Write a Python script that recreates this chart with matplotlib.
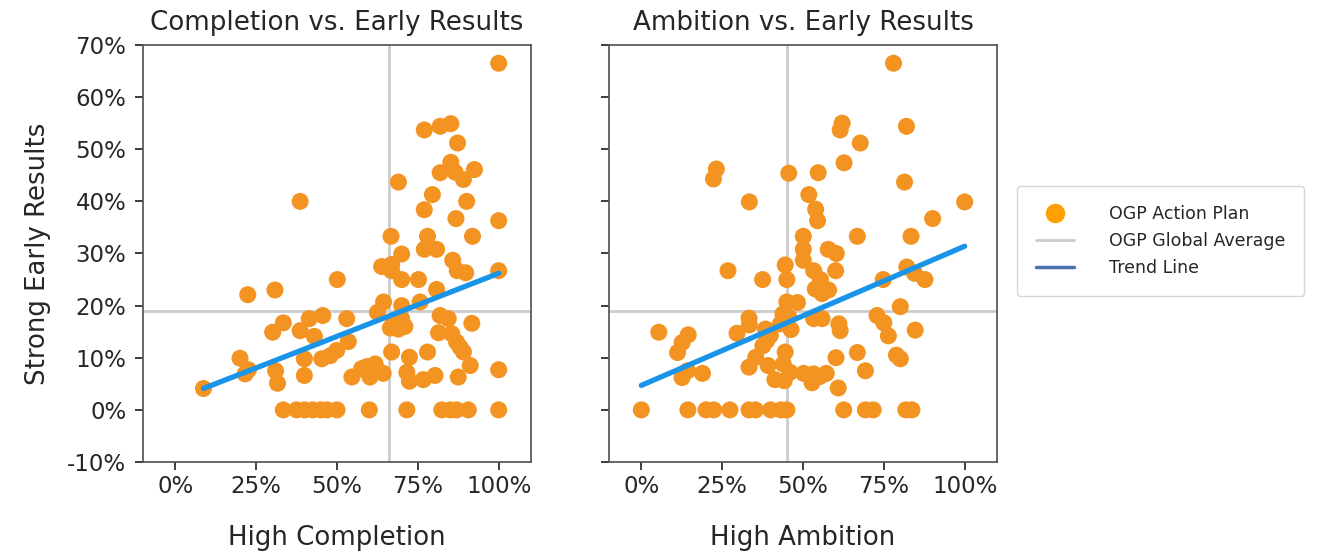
import numpy as np
import matplotlib
matplotlib.use("Agg")
import matplotlib.pyplot as plt
import seaborn as sns
from matplotlib.lines import Line2D
from matplotlib.ticker import FuncFormatter

# ---------------- data (percent) ----------------
completion_x = [100, 77.0, 81.9, 85.2, 87.3, 85.2, 81.9, 86.5, 89.1, 92.5,
                69.0, 79.5, 38.6, 90.1, 77.0, 86.8, 100, 66.7, 78.0, 91.9,
                77.0, 80.8, 70.0, 85.8, 63.8, 66.9, 66.9, 87.2, 89.8, 100,
                50.1, 70.0, 75.2, 22.4, 30.8, 80.8, 64.4, 70.0, 75.7, 62.5,
                45.6, 41.4, 53.0, 33.4, 81.9, 84.4, 91.7, 67.5, 70.0, 69.0,
                71.0, 68.0, 66.5, 30.1, 38.6, 43.0, 81.4, 85.5, 87.0, 88.1,
                89.1, 53.5, 49.9, 47.9, 45.3, 39.9, 20.0, 22.6, 21.6, 31.0,
                31.6, 39.9, 66.9, 72.4, 78.0, 71.6, 72.4, 76.7, 80.3, 87.5,
                91.2, 100, 54.6, 57.6, 60.2, 61.8, 64.3, 59.2, 8.7,
                33.4, 37.5, 40.0, 42.5, 45.0, 47.0, 50.0, 60.0, 71.6, 82.4,
                85.0, 87.0, 90.6, 100]
completion_y = [66.5, 53.7, 54.4, 54.9, 51.2, 47.5, 45.5, 45.6, 44.2, 46.1,
                43.7, 41.3, 40.0, 40.0, 38.4, 36.7, 36.3, 33.3, 33.3, 33.3,
                30.8, 30.8, 29.9, 28.7, 27.5, 27.9, 26.7, 26.7, 26.3, 26.7,
                25.0, 25.0, 25.0, 22.1, 23.0, 23.1, 20.7, 20.0, 20.7, 18.7,
                18.1, 17.5, 17.5, 16.7, 18.1, 17.5, 16.6, 17.1, 17.5, 15.5,
                16.0, 16.2, 15.7, 14.9, 15.2, 14.1, 14.8, 14.6, 13.0, 12.0,
                11.1, 13.1, 11.4, 10.4, 9.8, 9.8, 9.9, 7.7, 6.9, 7.5,
                5.1, 6.6, 11.1, 10.1, 11.1, 7.2, 5.5, 5.8, 6.6, 6.3,
                8.5, 7.7, 6.3, 7.9, 6.3, 8.8, 7.0, 8.3, 4.1,
                0, 0, 0, 0, 0, 0, 0, 0, 0, 0,
                0, 0, 0, 0]

ambition_x = [78.0, 62.1, 61.5, 82.0, 67.7, 62.7, 23.2, 22.3, 45.6, 54.7,
              81.4, 51.8, 33.4, 100, 53.9, 54.5, 90.1, 50.1, 66.8, 83.4,
              50.1, 50.1, 57.8, 60.3, 26.8, 37.5, 44.5, 45.0, 53.3, 55.4,
              53.8, 55.9, 57.9, 60.1, 74.8, 82.1, 84.5, 87.7, 45.0, 48.3,
              43.8, 45.6, 43.0, 46.3, 80.1, 33.3, 33.4, 29.6, 5.4, 14.5,
              12.6, 11.2, 38.4, 39.9, 38.8, 37.6, 53.3, 55.9, 61.1, 61.5,
              72.9, 75.0, 76.4, 84.7, 44.5, 43.9, 35.4, 33.3, 39.2, 41.3,
              44.2, 46.0, 50.2, 52.8, 55.2, 57.2, 60.2, 60.9, 66.8, 69.3,
              78.9, 80.1, 12.6, 14.3, 18.9, 53.3,
              0, 14.4, 20.0, 22.4, 27.4, 33.3, 35.3, 40.0, 43.2, 45.0,
              62.6, 69.3, 71.7, 81.8, 83.7]
ambition_y = [66.5, 55.0, 53.7, 54.4, 51.2, 47.4, 46.2, 44.3, 45.4, 45.5,
              43.7, 41.3, 39.9, 39.9, 38.5, 36.3, 36.7, 33.3, 33.3, 33.3,
              30.8, 28.7, 30.8, 30.0, 26.7, 25.0, 27.8, 25.0, 26.7, 25.0,
              23.2, 22.3, 23.0, 26.7, 25.0, 27.4, 26.2, 25.0, 20.7, 20.6,
              18.4, 17.8, 16.5, 15.4, 19.8, 17.6, 16.3, 14.7, 14.9, 14.4,
              12.9, 11.0, 15.5, 14.3, 13.3, 12.3, 17.5, 17.5, 16.5, 15.2,
              18.1, 16.7, 14.2, 15.3, 11.1, 8.8, 10.1, 8.2, 8.5, 5.8,
              5.6, 7.2, 7.0, 5.2, 6.4, 7.0, 10.0, 4.2, 11.0, 7.5,
              10.5, 9.8, 6.2, 7.5, 7.0, 6.9,
              0, 0, 0, 0, 0, 0, 0, 0, 0, 0,
              0, 0, 0, 0, 0]

# averages and trend lines (percent)
avg_completion = 66.1
avg_ambition = 45.2
avg_results = 18.9
trend_completion = (0.242, 2.0)   # slope, intercept
trend_ambition = (0.267, 4.7)

panel_titles = ["Completion vs. Early Results", "Ambition vs. Early Results"]
x_labels = ["High Completion", "High Ambition"]
y_label = "Strong Early Results"
legend_labels = ["OGP Action Plan", "OGP Global Average", "Trend Line"]

# ---------------- style ----------------
sns.set_theme(style="ticks", font_scale=1.5)
plt.rcParams['font.family'] = ['DejaVu Sans']
plt.rcParams['axes.unicode_minus'] = False

point_color = "#F39321"
trend_color = "#1A94E8"
avg_color = "#CCCCCC"

fig = plt.figure(figsize=(13.19, 5.53), dpi=100)
ax1 = fig.add_axes([143/1319, 1 - 462/553, 388/1319, 417/553])
ax2 = fig.add_axes([609/1319, 1 - 462/553, 388/1319, 417/553], sharey=ax1)

pct = FuncFormatter(lambda v, p: f"{int(round(v * 100))}%")

panels = [
    (ax1, completion_x, completion_y, avg_completion, trend_completion),
    (ax2, ambition_x, ambition_y, avg_ambition, trend_ambition),
]
for i, (ax, xs, ys, avgx, (m, b)) in enumerate(panels):
    x = np.array(xs) / 100
    y = np.array(ys) / 100
    ax.axvline(avgx / 100, color=avg_color, lw=2, zorder=1)
    ax.axhline(avg_results / 100, color=avg_color, lw=2, zorder=1)
    ax.scatter(x, y, s=150, color=point_color, edgecolor="none", zorder=2)
    tx = np.array([x.min(), x.max()])
    ax.plot(tx, (m * tx * 100 + b) / 100, color=trend_color, lw=3.8,
            solid_capstyle="round", zorder=3)
    ax.set_xlim(-0.1, 1.1)
    ax.set_ylim(-0.1, 0.7)
    ax.set_xticks([0, 0.25, 0.5, 0.75, 1.0])
    ax.set_yticks(np.arange(-0.1, 0.71, 0.1))
    ax.xaxis.set_major_formatter(pct)
    ax.yaxis.set_major_formatter(pct)
    ax.tick_params(axis="y", pad=6)
    ax.set_title(panel_titles[i], pad=11, fontsize=18.8)
    ax.set_xlabel(x_labels[i], labelpad=19, fontsize=18.7)
    for sp in ax.spines.values():
        sp.set_color("#555555")

ax1.set_ylabel(y_label, labelpad=12, fontsize=18.7)
plt.setp(ax2.get_yticklabels(), visible=False)

handles = [
    Line2D([], [], marker="o", ls="none", color="#FFA000", markersize=13),
    Line2D([], [], color=avg_color, lw=2),
    Line2D([], [], color="#4C72B0", lw=2.5),
]
fig.legend(handles, legend_labels, loc="center left",
           bbox_to_anchor=(1017/1319, 1 - 241/553), fontsize=12.5,
           frameon=True, handlelength=2.2, handletextpad=2.0,
           borderpad=1.1, labelspacing=0.5, borderaxespad=0)

fig.savefig("out.png", dpi=100)
